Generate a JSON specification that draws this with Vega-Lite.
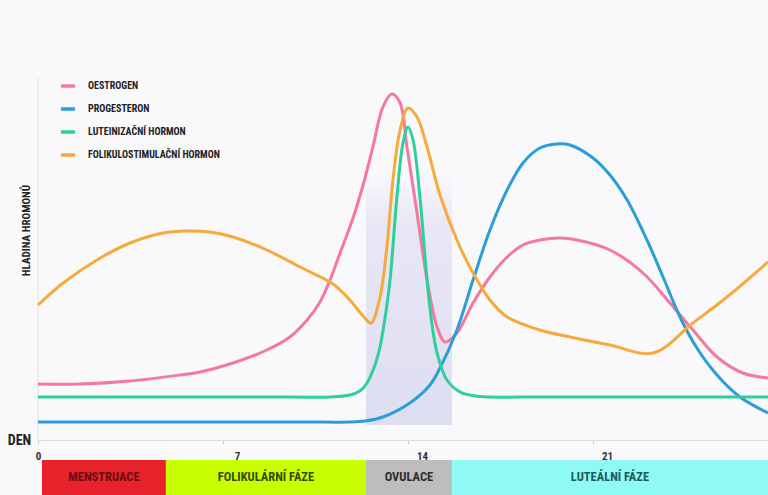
{
  "$schema": "https://vega.github.io/schema/vega-lite/v6.json",
  "width": 730,
  "height": 485,
  "autosize": {"type": "none"},
  "padding": {"left": 38, "top": 10, "right": 0, "bottom": 0},
  "background": "#f9f9fb",
  "config": {"view": {"stroke": null}, "font": "Roboto Condensed, Roboto, sans-serif"},
  "datasets": {
    "hormones": [
      {"h": "OESTROGEN", "d": 0, "v": 56}, {"h": "OESTROGEN", "d": 1.59, "v": 56}, {"h": "OESTROGEN", "d": 3.48, "v": 59}, {"h": "OESTROGEN", "d": 5.37, "v": 65}, {"h": "OESTROGEN", "d": 6.13, "v": 68}, {"h": "OESTROGEN", "d": 7.38, "v": 77}, {"h": "OESTROGEN", "d": 8.66, "v": 90}, {"h": "OESTROGEN", "d": 9.53, "v": 103}, {"h": "OESTROGEN", "d": 10.18, "v": 120}, {"h": "OESTROGEN", "d": 10.67, "v": 138}, {"h": "OESTROGEN", "d": 11.05, "v": 160}, {"h": "OESTROGEN", "d": 11.43, "v": 187}, {"h": "OESTROGEN", "d": 11.92, "v": 222}, {"h": "OESTROGEN", "d": 12.3, "v": 255}, {"h": "OESTROGEN", "d": 12.67, "v": 293}, {"h": "OESTROGEN", "d": 13.05, "v": 333}, {"h": "OESTROGEN", "d": 13.39, "v": 346}, {"h": "OESTROGEN", "d": 13.7, "v": 337}, {"h": "OESTROGEN", "d": 13.96, "v": 293}, {"h": "OESTROGEN", "d": 14.34, "v": 227}, {"h": "OESTROGEN", "d": 14.72, "v": 160}, {"h": "OESTROGEN", "d": 15.1, "v": 113}, {"h": "OESTROGEN", "d": 15.4, "v": 98}, {"h": "OESTROGEN", "d": 15.85, "v": 107}, {"h": "OESTROGEN", "d": 16.46, "v": 137}, {"h": "OESTROGEN", "d": 17.1, "v": 163}, {"h": "OESTROGEN", "d": 17.75, "v": 183}, {"h": "OESTROGEN", "d": 18.35, "v": 195}, {"h": "OESTROGEN", "d": 18.99, "v": 200}, {"h": "OESTROGEN", "d": 19.75, "v": 202}, {"h": "OESTROGEN", "d": 20.4, "v": 200}, {"h": "OESTROGEN", "d": 21.64, "v": 190}, {"h": "OESTROGEN", "d": 22.89, "v": 167}, {"h": "OESTROGEN", "d": 23.91, "v": 137}, {"h": "OESTROGEN", "d": 24.78, "v": 110}, {"h": "OESTROGEN", "d": 25.69, "v": 83}, {"h": "OESTROGEN", "d": 26.67, "v": 67}, {"h": "OESTROGEN", "d": 27.62, "v": 62},
      {"h": "PROGESTERON", "d": 0, "v": 18}, {"h": "PROGESTERON", "d": 5, "v": 18}, {"h": "PROGESTERON", "d": 10, "v": 18}, {"h": "PROGESTERON", "d": 11.8, "v": 18}, {"h": "PROGESTERON", "d": 12.37, "v": 19}, {"h": "PROGESTERON", "d": 13.05, "v": 23}, {"h": "PROGESTERON", "d": 14.07, "v": 37}, {"h": "PROGESTERON", "d": 14.83, "v": 55}, {"h": "PROGESTERON", "d": 15.21, "v": 72}, {"h": "PROGESTERON", "d": 15.85, "v": 110}, {"h": "PROGESTERON", "d": 16.46, "v": 160}, {"h": "PROGESTERON", "d": 17.1, "v": 210}, {"h": "PROGESTERON", "d": 17.75, "v": 250}, {"h": "PROGESTERON", "d": 18.35, "v": 277}, {"h": "PROGESTERON", "d": 18.99, "v": 292}, {"h": "PROGESTERON", "d": 19.64, "v": 296}, {"h": "PROGESTERON", "d": 20.13, "v": 295}, {"h": "PROGESTERON", "d": 21.0, "v": 282}, {"h": "PROGESTERON", "d": 21.64, "v": 265}, {"h": "PROGESTERON", "d": 22.29, "v": 240}, {"h": "PROGESTERON", "d": 23.04, "v": 200}, {"h": "PROGESTERON", "d": 23.65, "v": 163}, {"h": "PROGESTERON", "d": 24.29, "v": 123}, {"h": "PROGESTERON", "d": 24.93, "v": 92}, {"h": "PROGESTERON", "d": 25.69, "v": 65}, {"h": "PROGESTERON", "d": 26.56, "v": 43}, {"h": "PROGESTERON", "d": 27.62, "v": 27},
      {"h": "LUTEINIZAČNÍ HORMON", "d": 0, "v": 43}, {"h": "LUTEINIZAČNÍ HORMON", "d": 5, "v": 43}, {"h": "LUTEINIZAČNÍ HORMON", "d": 9.5, "v": 43}, {"h": "LUTEINIZAČNÍ HORMON", "d": 11.05, "v": 43}, {"h": "LUTEINIZAČNÍ HORMON", "d": 11.8, "v": 45}, {"h": "LUTEINIZAČNÍ HORMON", "d": 12.18, "v": 49}, {"h": "LUTEINIZAČNÍ HORMON", "d": 12.45, "v": 57}, {"h": "LUTEINIZAČNÍ HORMON", "d": 12.75, "v": 75}, {"h": "LUTEINIZAČNÍ HORMON", "d": 12.94, "v": 93}, {"h": "LUTEINIZAČNÍ HORMON", "d": 13.13, "v": 122}, {"h": "LUTEINIZAČNÍ HORMON", "d": 13.32, "v": 160}, {"h": "LUTEINIZAČNÍ HORMON", "d": 13.58, "v": 243}, {"h": "LUTEINIZAČNÍ HORMON", "d": 13.81, "v": 297}, {"h": "LUTEINIZAČNÍ HORMON", "d": 14.0, "v": 313}, {"h": "LUTEINIZAČNÍ HORMON", "d": 14.19, "v": 300}, {"h": "LUTEINIZAČNÍ HORMON", "d": 14.45, "v": 243}, {"h": "LUTEINIZAČNÍ HORMON", "d": 14.72, "v": 160}, {"h": "LUTEINIZAČNÍ HORMON", "d": 14.91, "v": 115}, {"h": "LUTEINIZAČNÍ HORMON", "d": 15.1, "v": 87}, {"h": "LUTEINIZAČNÍ HORMON", "d": 15.47, "v": 60}, {"h": "LUTEINIZAČNÍ HORMON", "d": 15.97, "v": 48}, {"h": "LUTEINIZAČNÍ HORMON", "d": 16.53, "v": 44}, {"h": "LUTEINIZAČNÍ HORMON", "d": 17.1, "v": 43}, {"h": "LUTEINIZAČNÍ HORMON", "d": 19, "v": 43}, {"h": "LUTEINIZAČNÍ HORMON", "d": 23, "v": 43}, {"h": "LUTEINIZAČNÍ HORMON", "d": 27.62, "v": 43},
      {"h": "FOLIKULOSTIMULAČNÍ HORMON", "d": 0, "v": 135}, {"h": "FOLIKULOSTIMULAČNÍ HORMON", "d": 0.95, "v": 157}, {"h": "FOLIKULOSTIMULAČNÍ HORMON", "d": 2.23, "v": 180}, {"h": "FOLIKULOSTIMULAČNÍ HORMON", "d": 3.48, "v": 197}, {"h": "FOLIKULOSTIMULAČNÍ HORMON", "d": 4.73, "v": 207}, {"h": "FOLIKULOSTIMULAČNÍ HORMON", "d": 5.6, "v": 209}, {"h": "FOLIKULOSTIMULAČNÍ HORMON", "d": 6.51, "v": 208}, {"h": "FOLIKULOSTIMULAČNÍ HORMON", "d": 7.38, "v": 203}, {"h": "FOLIKULOSTIMULAČNÍ HORMON", "d": 8.66, "v": 190}, {"h": "FOLIKULOSTIMULAČNÍ HORMON", "d": 9.91, "v": 173}, {"h": "FOLIKULOSTIMULAČNÍ HORMON", "d": 11.16, "v": 156}, {"h": "FOLIKULOSTIMULAČNÍ HORMON", "d": 11.8, "v": 140}, {"h": "FOLIKULOSTIMULAČNÍ HORMON", "d": 12.3, "v": 124}, {"h": "FOLIKULOSTIMULAČNÍ HORMON", "d": 12.6, "v": 117}, {"h": "FOLIKULOSTIMULAČNÍ HORMON", "d": 12.94, "v": 143}, {"h": "FOLIKULOSTIMULAČNÍ HORMON", "d": 13.2, "v": 193}, {"h": "FOLIKULOSTIMULAČNÍ HORMON", "d": 13.43, "v": 260}, {"h": "FOLIKULOSTIMULAČNÍ HORMON", "d": 13.7, "v": 310}, {"h": "FOLIKULOSTIMULAČNÍ HORMON", "d": 14.0, "v": 332}, {"h": "FOLIKULOSTIMULAČNÍ HORMON", "d": 14.34, "v": 323}, {"h": "FOLIKULOSTIMULAČNÍ HORMON", "d": 14.72, "v": 293}, {"h": "FOLIKULOSTIMULAČNÍ HORMON", "d": 15.21, "v": 245}, {"h": "FOLIKULOSTIMULAČNÍ HORMON", "d": 15.85, "v": 200}, {"h": "FOLIKULOSTIMULAČNÍ HORMON", "d": 16.46, "v": 167}, {"h": "FOLIKULOSTIMULAČNÍ HORMON", "d": 17.1, "v": 140}, {"h": "FOLIKULOSTIMULAČNÍ HORMON", "d": 17.75, "v": 123}, {"h": "FOLIKULOSTIMULAČNÍ HORMON", "d": 18.99, "v": 110}, {"h": "FOLIKULOSTIMULAČNÍ HORMON", "d": 20.13, "v": 103}, {"h": "FOLIKULOSTIMULAČNÍ HORMON", "d": 21.64, "v": 95}, {"h": "FOLIKULOSTIMULAČNÍ HORMON", "d": 23.27, "v": 87}, {"h": "FOLIKULOSTIMULAČNÍ HORMON", "d": 24.78, "v": 117}, {"h": "FOLIKULOSTIMULAČNÍ HORMON", "d": 26.07, "v": 143}, {"h": "FOLIKULOSTIMULAČNÍ HORMON", "d": 27.62, "v": 178}
    ],
    "phases": [
      {"phase": "MENSTRUACE", "s": 0.15, "e": 4.84},
      {"phase": "FOLIKULÁRNÍ FÁZE", "s": 4.84, "e": 12.41},
      {"phase": "OVULACE", "s": 12.41, "e": 15.66},
      {"phase": "LUTEÁLNÍ FÁZE", "s": 15.66, "e": 27.62}
    ]
  },
  "layer": [
    {
      "data": {"values": [{"s": 12.41, "e": 15.66, "lo": 15, "hi": 265}]},
      "mark": {"type": "rect", "color": {"gradient": "linear", "x1": 0, "y1": 0, "x2": 0, "y2": 1, "stops": [{"offset": 0, "color": "rgba(228,228,245,0)"}, {"offset": 0.2, "color": "#e7e7f6"}, {"offset": 1, "color": "#dedef1"}]}},
      "encoding": {
        "x": {"field": "s", "type": "quantitative", "scale": {"domain": [0, 27.62], "nice": false, "zero": false}},
        "x2": {"field": "e"},
        "y": {"field": "lo", "type": "quantitative", "scale": {"domain": [-55, 430], "nice": false, "zero": false}},
        "y2": {"field": "hi"}
      }
    },
    {
      "data": {"values": [{"d": 0, "lo": 0, "hi": 362}]},
      "mark": {"type": "rule", "color": "#e2e2e6", "strokeWidth": 1},
      "encoding": {
        "x": {"field": "d", "type": "quantitative"},
        "y": {"field": "lo", "type": "quantitative"},
        "y2": {"field": "hi"}
      }
    },
    {
      "data": {"name": "phases"},
      "mark": {"type": "rect"},
      "encoding": {
        "x": {"field": "s", "type": "quantitative"},
        "x2": {"field": "e"},
        "y": {"datum": -20, "type": "quantitative"},
        "y2": {"datum": -55},
        "fill": {"field": "phase", "type": "nominal", "legend": null, "scale": {"domain": ["MENSTRUACE", "FOLIKULÁRNÍ FÁZE", "OVULACE", "LUTEÁLNÍ FÁZE"], "range": ["#e8222b", "#c8ff00", "#bdbdbd", "#8ff9f3"]}}
      }
    },
    {
      "data": {"name": "phases"},
      "transform": [{"calculate": "(datum.s + datum.e) / 2", "as": "m"}],
      "mark": {"type": "text", "fontSize": 12.5, "fontWeight": "bold", "align": "center", "baseline": "middle"},
      "encoding": {
        "x": {"field": "m", "type": "quantitative"},
        "y": {"datum": -37, "type": "quantitative"},
        "text": {"field": "phase"},
        "fill": {"field": "phase", "type": "nominal", "legend": null, "scale": {"domain": ["MENSTRUACE", "FOLIKULÁRNÍ FÁZE", "OVULACE", "LUTEÁLNÍ FÁZE"], "range": ["#6b0c0e", "#3a4a00", "#2d2d2d", "#1b5c5c"]}}
      }
    },
    {
      "data": {"name": "hormones"},
      "mark": {"type": "line", "interpolate": "catmull-rom", "strokeWidth": 3},
      "encoding": {
        "x": {
          "field": "d", "type": "quantitative",
          "axis": {
            "title": "DEN", "orient": "bottom", "offset": -55, "values": [0, 7, 14, 21, 28], "grid": false,
            "domainColor": "#dddddd", "tickColor": "#cccccc", "tickSize": 4,
            "labelFontSize": 11, "labelFontWeight": "bold", "labelColor": "#333333", "labelPadding": 6,
            "labelOverlap": false, "labelBound": false, "labelFlush": false,
            "labelOffset": {"condition": {"test": "datum.value == 0", "value": 0}, "value": 14},
            "titleFontSize": 14, "titleFontWeight": "bold", "titleColor": "#222222",
            "titleX": -19, "titleY": 0, "titleAlign": "center", "titleBaseline": "middle"
          }
        },
        "y": {
          "field": "v", "type": "quantitative",
          "axis": {
            "title": "HLADINA HROMONŮ", "domain": false, "ticks": false, "labels": false, "grid": false,
            "titleFontSize": 11, "titleFontWeight": "bold", "titleColor": "#222222",
            "titleX": -12, "titleY": 220, "titleAlign": "center", "titleBaseline": "middle", "titleAngle": -90
          }
        },
        "color": {
          "field": "h", "type": "nominal",
          "scale": {"domain": ["OESTROGEN", "PROGESTERON", "LUTEINIZAČNÍ HORMON", "FOLIKULOSTIMULAČNÍ HORMON"], "range": ["#f4789f", "#2b9ed8", "#2fcf9a", "#f6aa3c"]},
          "legend": {
            "title": null, "orient": "none", "legendX": 21, "legendY": 67,
            "symbolType": "stroke", "symbolSize": 196, "symbolStrokeWidth": 3.5,
            "rowPadding": 7, "labelFontSize": 10, "labelFontWeight": "bold", "labelColor": "#222222",
            "labelOffset": 11, "labelLimit": 300
          }
        }
      }
    }
  ],
  "resolve": {"scale": {"fill": "independent"}}
}
